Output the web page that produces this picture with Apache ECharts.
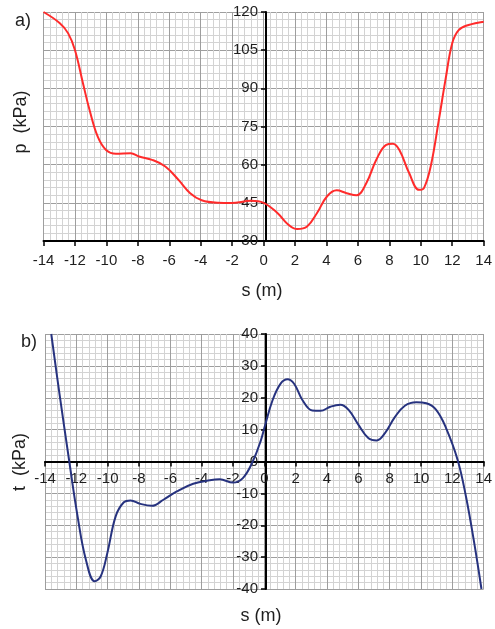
<!DOCTYPE html>
<html>
<head>
<meta charset="utf-8">
<script src="https://cdn.jsdelivr.net/npm/echarts@6/dist/echarts.min.js"></script>
<style>
  html, body { margin: 0; padding: 0; background: #fff; }
  #chart { width: 495px; height: 629px; }
</style>
</head>
<body>
<div id="chart"></div>
<script>
// a) pressure p along s
var sP = [-14, -12.96, -12.43, -12.0, -11.49, -11.07, -10.55, -10.02, -9.39, -8.45, -7.92, -7.09, -6.25, -5.41, -4.67, -3.94, -2.89, -2.05, -0.8, 0,
          0.88, 1.51, 2.14, 2.77, 3.4, 4.03, 4.65, 5.28, 5.91, 6.54, 7.17, 7.8, 8.22, 8.64, 9.26, 9.89, 10.2, 10.63, 11.15, 11.57, 12.0, 12.41, 13.04, 14];
var pVals = [120, 115.6, 111.6, 105.1, 92, 81.5, 71, 65.8, 64.3, 64.5, 63.2, 61.9, 59.3, 54, 48.8, 46, 45, 44.9, 45.8, 45,
             41, 36.8, 34.7, 35.7, 41, 47.5, 49.9, 48.8, 48, 52.8, 61.9, 67.8, 68.2, 65.8, 56.7, 50.1, 50.8, 59.3, 77.6, 93.3, 107.7, 112.9, 114.9, 116.2];

// b) shear t along s
var sT = [-13.6, -13.08, -12.45, -11.92, -11.39, -10.82, -10.44, -10.02, -9.49, -8.97, -8.54, -7.91, -7.17, -6.44, -5.59, -4.54, -3.48, -2.85, -2.0, -1.37, -0.74, -0.21,
          0, 0.53, 1.05, 1.48, 1.9, 2.43, 3.06, 3.59, 4.22, 4.85, 5.38, 6.01, 6.65, 7.17, 7.7, 8.33, 8.97, 9.7, 10.34, 10.97, 11.6, 12.34, 12.87, 13.4, 13.86];
var tVals = [40, 21.4, 0, -17.2, -30.8, -37.6, -36, -28.7, -17.2, -12.8, -12.2, -13.3, -13.9, -12, -9.4, -7, -5.9, -5.6, -6.6, -5.2, 0, 6.8,
             10.5, 19.3, 24.5, 25.8, 24.4, 19.3, 16, 15.9, 17.2, 17.8, 16.2, 11.5, 7.3, 6.6, 8.9, 13.9, 17.5, 18.6, 18.3, 16.2, 10.5, 0.5, -11, -25.6, -40];

var pYTicks = { min: 30, max: 120, step: 15 };
var tYTicks = { min: -40, max: 40, step: 10 };

function pairs(xs, ys) {
  var out = [];
  for (var i = 0; i < xs.length; i++) out.push([xs[i], ys[i]]);
  return out;
}

var textColor = '#1e1e1e';
var fontFamily = 'Liberation Sans, Arial, sans-serif';

// axes are shifted into the grid with offset (y axis sits at s = 0, lower x axis at t = 0)
function makeX(gridIndex, offset, margin) {
  return {
    type: 'value', gridIndex: gridIndex, position: 'bottom', offset: offset,
    min: -14, max: 14, interval: 2,
    axisLine: { show: true, onZero: false, lineStyle: { color: '#000', width: 2 } },
    axisTick: { show: true, inside: false, length: 5, lineStyle: { color: '#000', width: 1.5 } },
    axisLabel: { color: textColor, fontSize: 15, fontFamily: fontFamily, margin: margin },
    splitLine: { show: true, lineStyle: { color: '#9e9e9e', width: 1 } },
    minorTick: { show: false, splitNumber: 5 },
    minorSplitLine: { show: true, lineStyle: { color: '#d3d3d3', width: 1 } }
  };
}

function makeY(gridIndex, ticks, offset) {
  return {
    type: 'value', gridIndex: gridIndex, position: 'left', offset: offset,
    min: ticks.min, max: ticks.max, interval: ticks.step,
    axisLine: { show: true, onZero: false, lineStyle: { color: '#000', width: 2 } },
    axisTick: { show: true, inside: false, length: 5, lineStyle: { color: '#000', width: 1.5 } },
    axisLabel: { color: textColor, fontSize: 15, fontFamily: fontFamily, margin: 8 },
    splitLine: { show: true, lineStyle: { color: '#9e9e9e', width: 1 } },
    minorTick: { show: false, splitNumber: 5 },
    minorSplitLine: { show: true, lineStyle: { color: '#d3d3d3', width: 1 } }
  };
}

function label(text, x, y, rotate) {
  return {
    type: 'text', x: x, y: y, rotation: rotate || 0,
    style: {
      text: text, fill: textColor, fontSize: 18, fontFamily: fontFamily,
      align: 'center', verticalAlign: 'middle'
    }
  };
}

var chart = echarts.init(document.getElementById('chart'));
chart.setOption({
  animation: false,
  backgroundColor: '#fff',
  grid: [
    { left: 43.5, top: 12, width: 445, height: 229 },
    { left: 45, top: 334, width: 442, height: 255 }
  ],
  xAxis: [makeX(0, 0, 12), makeX(1, -127.5, 10)],
  yAxis: [makeY(0, pYTicks, -222.5), makeY(1, tYTicks, -221)],
  series: [
    {
      type: 'line', xAxisIndex: 0, yAxisIndex: 0,
      data: pairs(sP, pVals), smooth: 0.4, showSymbol: false,
      lineStyle: { color: '#ff2b2b', width: 2 }
    },
    {
      type: 'line', xAxisIndex: 1, yAxisIndex: 1,
      data: pairs(sT, tVals), smooth: 0.4, showSymbol: false,
      lineStyle: { color: '#27337f', width: 2 }
    }
  ],
  graphic: [
    label('a)', 23, 21),
    label('b)', 29, 342),
    label('p  (kPa)', 21, 122, Math.PI / 2),
    label('t  (kPa)', 20, 462, Math.PI / 2),
    label('s (m)', 262, 291),
    label('s (m)', 261, 616)
  ]
});
</script>
</body>
</html>
